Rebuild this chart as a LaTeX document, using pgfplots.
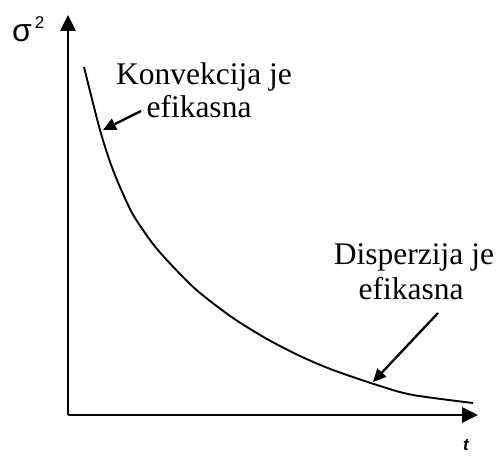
\documentclass[border=0pt]{standalone}
\usepackage{pgfplots}
\pgfplotsset{compat=1.18}
\usepackage{fontspec}
\setmainfont{Liberation Serif}
\newfontfamily\sansfont{Liberation Sans}
\usetikzlibrary{arrows.meta}

\begin{document}
\begin{tikzpicture}[x=1pt,y=1pt]
\useasboundingbox (0,0) rectangle (500,455);
\begin{axis}[
  at={(68pt,40pt)}, anchor=south west,
  scale only axis, width=410pt, height=400pt,
  xmin=0, xmax=410, ymin=0, ymax=400,
  axis lines=left,
  axis line style={line width=2.8pt, -{Triangle[length=16pt,width=15pt]}},
  xtick=\empty, ytick=\empty,
  clip=false,
]
% variance of the front over time
\addplot[smooth, line width=1.9pt, black] coordinates {
  (16,348) (32,285) (45,245) (62,206) (75,185) (89,166) (112,141) (132,122)
  (165,97) (199,76) (232,59) (265,45) (312,29) (345,20) (405,12)
};

% annotations
\draw[line width=2.3pt, -{Triangle[length=13pt,width=12pt]}]
  (axis cs:73,304) -- (axis cs:35,285);
\draw[line width=2.3pt, -{Triangle[length=13pt,width=12pt]}]
  (axis cs:370,102) -- (axis cs:305,33);

\node[anchor=base, inner sep=0, font=\fontsize{31.5}{33}\selectfont]
  at (axis cs:136,330) {Konvekcija je};
\node[anchor=base, inner sep=0, font=\fontsize{31.5}{33}\selectfont]
  at (axis cs:131,297) {efikasna};
\node[anchor=base, inner sep=0, font=\fontsize{31.5}{33}\selectfont]
  at (axis cs:346,150) {Disperzija je};
\node[anchor=base, inner sep=0, font=\fontsize{31.5}{33}\selectfont]
  at (axis cs:343,115) {efikasna};

% axis labels
\node[anchor=base west, inner sep=0]
  at (axis cs:-56,373) {\sansfont\fontsize{32}{32}\selectfont σ\hspace{3pt}\raisebox{13pt}{\fontsize{17}{17}\selectfont 2}};
\node[anchor=base, inner sep=0]
  at (axis cs:398,-35) {\sansfont\itshape\bfseries\fontsize{17}{17}\selectfont t};
\end{axis}
\end{tikzpicture}
\end{document}
